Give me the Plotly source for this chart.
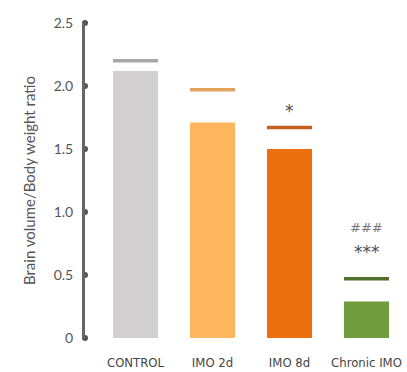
import plotly.graph_objects as go

categories = ["CONTROL", "IMO 2d", "IMO 8d", "Chronic IMO"]
bar_values = [2.12, 1.71, 1.50, 0.29]
line_values = [2.20, 1.97, 1.67, 0.47]
bar_colors = ["#d1cfd0", "#fdb55e", "#eb700d", "#719c3e"]
line_colors = ["#a8a7a7", "#e3a35c", "#c65f1c", "#526f2e"]
annot_texts = ["", "", "*", "***"]
annot_values = [None, None, 1.80, 0.68]
hash_texts = ["", "", "", "###"]
hash_values = [None, None, None, 0.88]
y_ticks = [0, 0.5, 1.0, 1.5, 2.0, 2.5]
y_ticktext = ["0", "0.5", "1.0", "1.5", "2.0", "2.5"]

x_pos = list(range(len(categories)))
bar_w = 0.585
x_left = -0.656

fig = go.Figure()
fig.add_trace(go.Bar(
    x=x_pos, y=bar_values, width=bar_w,
    marker=dict(color=bar_colors, line=dict(width=0)),
    showlegend=False,
))
for i, v in enumerate(line_values):
    fig.add_trace(go.Scatter(
        x=[i - bar_w / 2, i + bar_w / 2], y=[v, v], mode="lines",
        line=dict(color=line_colors[i], width=3.5), showlegend=False,
    ))
# tick dots on the y axis
fig.add_trace(go.Scatter(
    x=[x_left] * len(y_ticks), y=y_ticks, mode="markers",
    marker=dict(color="#555555", size=6), cliponaxis=False, showlegend=False,
))

for i, (t, v) in enumerate(zip(annot_texts, annot_values)):
    if t:
        fig.add_annotation(x=i, y=v, text=t, showarrow=False,
                           font=dict(size=17, color="#4a4a58", family="DejaVu Sans"))
for i, (t, v) in enumerate(zip(hash_texts, hash_values)):
    if t:
        fig.add_annotation(x=i, y=v, text=t, showarrow=False,
                           font=dict(size=13, color="#77777f", family="DejaVu Sans"))

fig.update_layout(
    width=407, height=372,
    margin=dict(l=85, r=2, t=23, b=34),
    plot_bgcolor="white", paper_bgcolor="white",
    font=dict(family="Lato, Open Sans, sans-serif", color="#555555"),
)
fig.update_xaxes(
    range=[x_left, 3.5], tickvals=x_pos, ticktext=categories,
    showgrid=False, zeroline=False, showline=False, ticks="",
    ticklabelstandoff=15, automargin=False,
    tickfont=dict(family="Liberation Sans Narrow, DejaVu Sans Condensed, Roboto, sans-serif",
                  size=13, color="#444444"),
)
fig.update_yaxes(
    range=[0, 2.5], tickvals=y_ticks, ticktext=y_ticktext,
    showgrid=False, zeroline=False, showline=True, linecolor="#666666", linewidth=3,
    ticks="", ticklabelstandoff=6, automargin=False,
    tickfont=dict(family="Lato, sans-serif", size=14, color="#555555"),
    title=dict(text="Brain volume/Body weight ratio", standoff=15,
               font=dict(family="Lato, sans-serif", size=15, color="#555555")),
)

fig.write_html("out.html")
